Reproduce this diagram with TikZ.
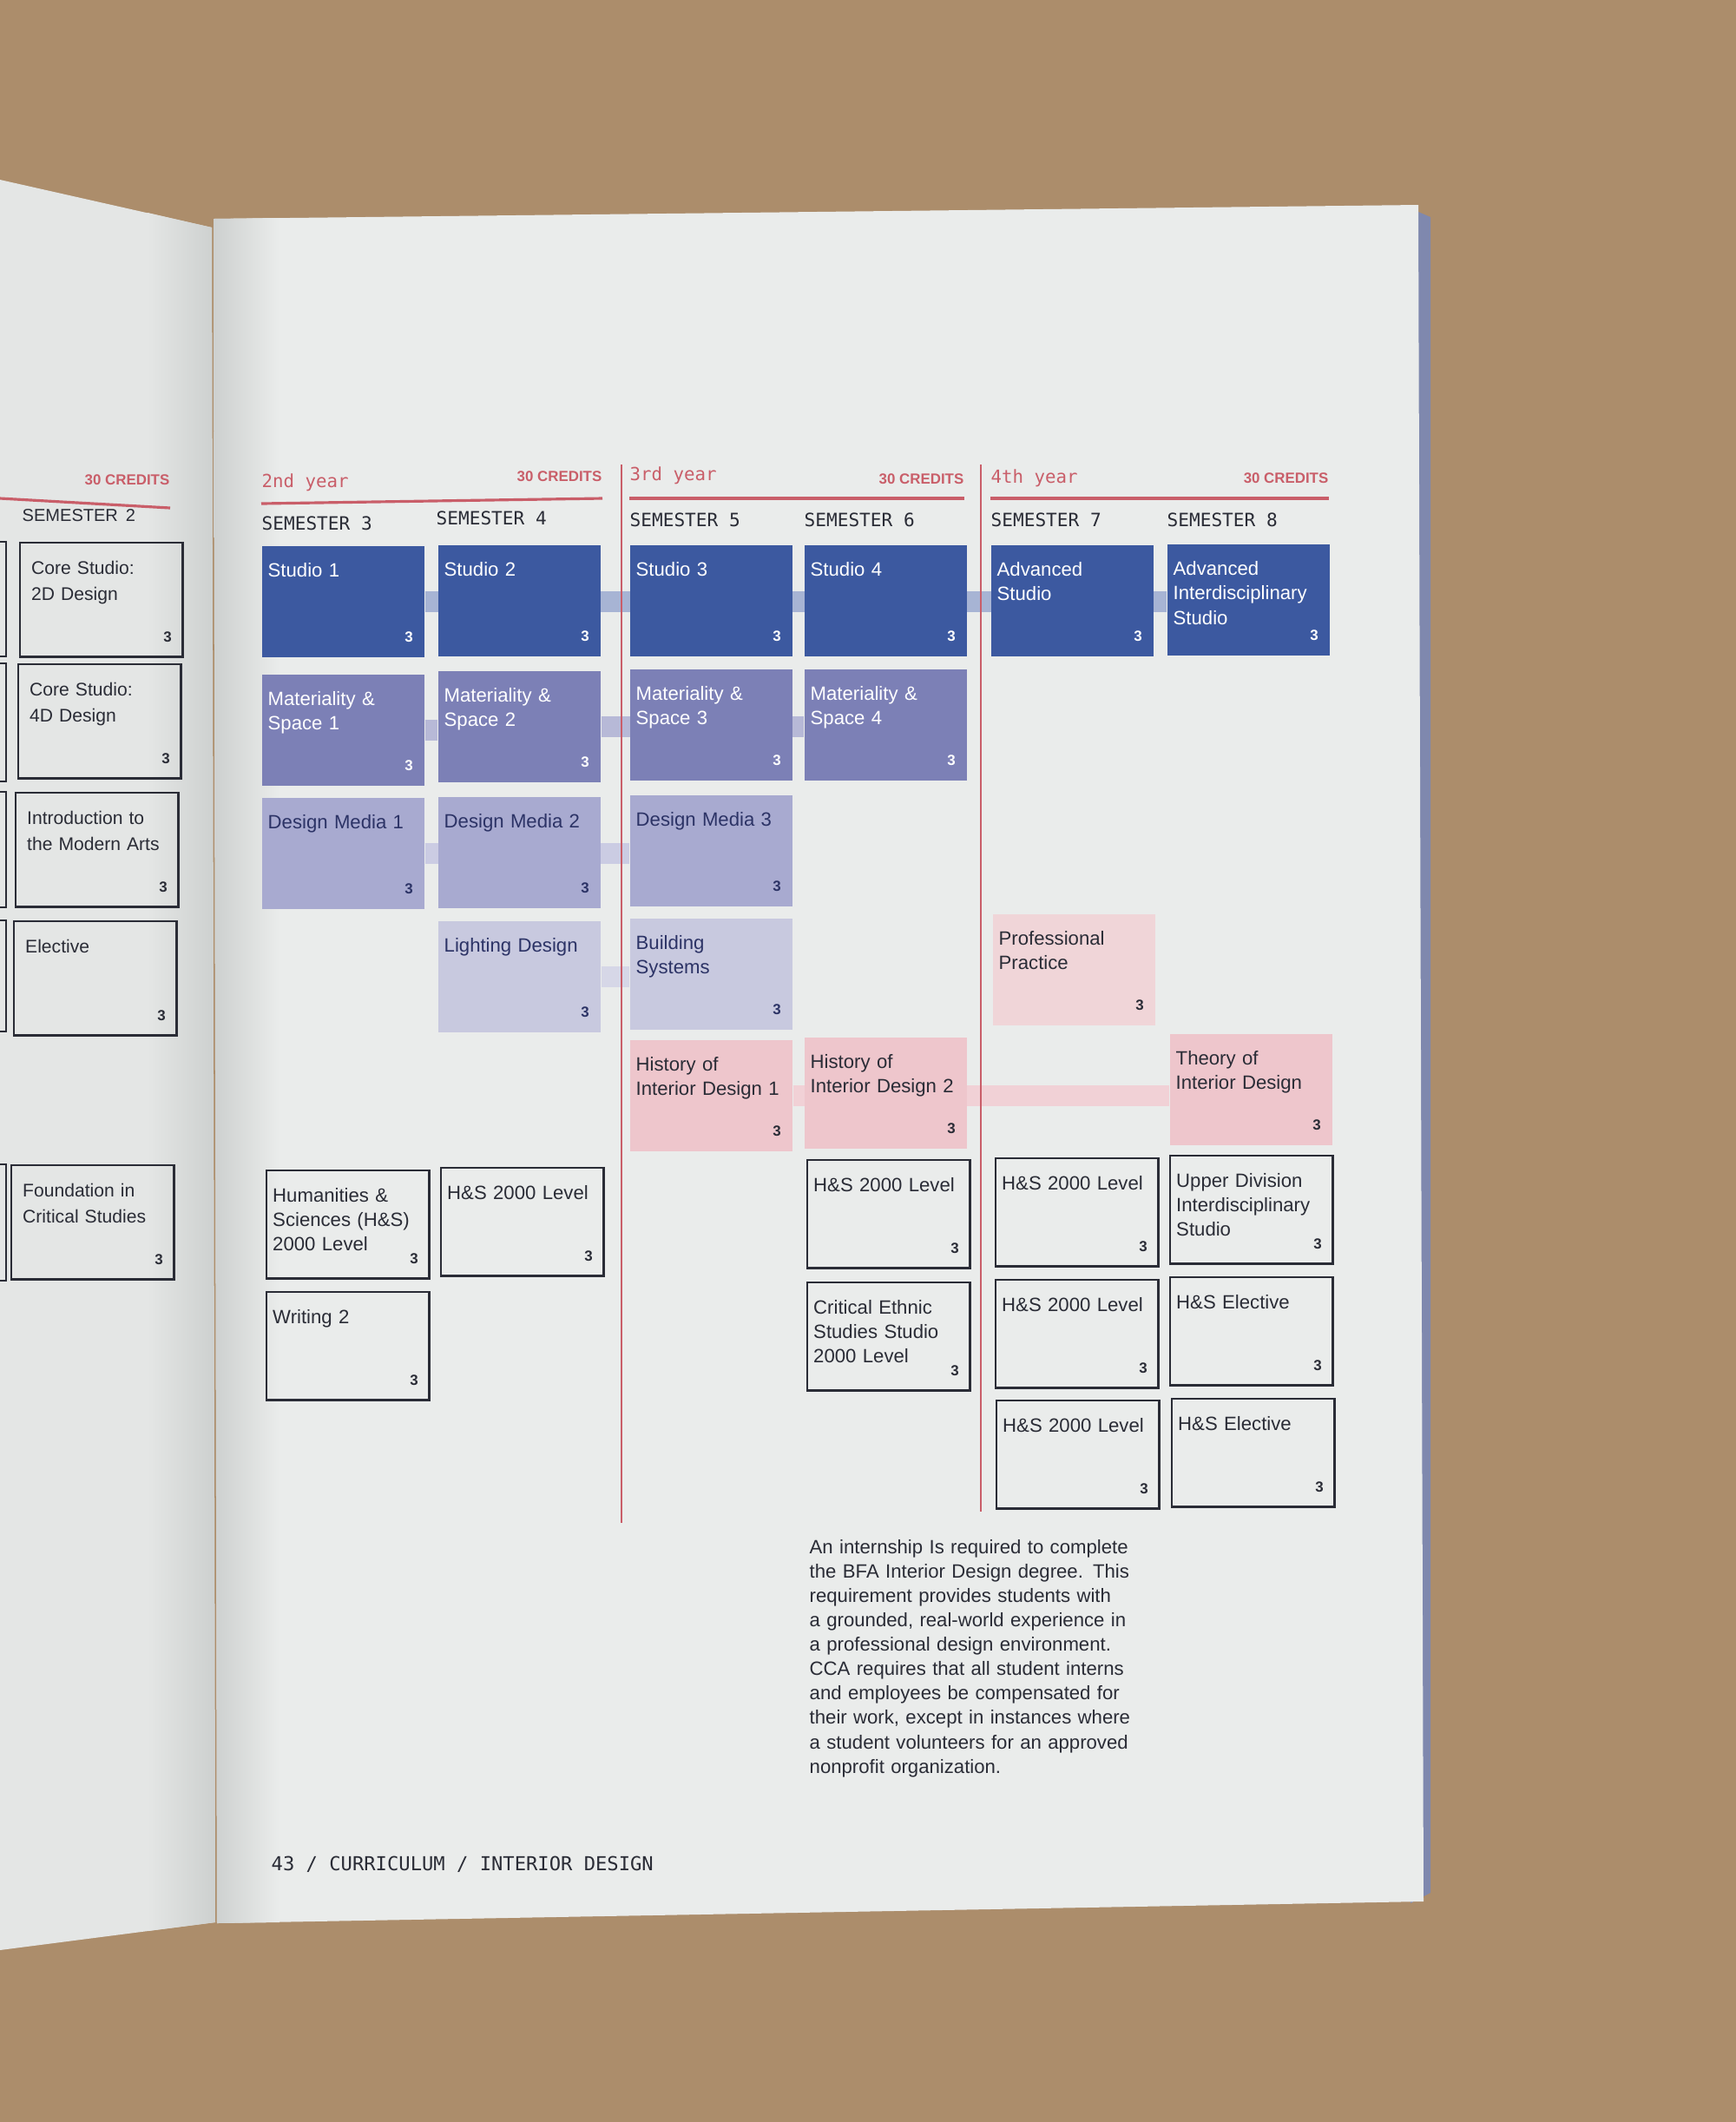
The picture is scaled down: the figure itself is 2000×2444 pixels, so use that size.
\documentclass[tikz,border=0pt]{standalone}
\usepackage{fontspec}
\setmainfont{Liberation Sans}
\newfontfamily\monofont{DejaVu Sans Mono}
\usetikzlibrary{backgrounds}
\definecolor{deskBrown}{HTML}{AC8D6B}
\definecolor{pageWhite}{HTML}{EAECEB}
\definecolor{pageShade}{HTML}{CDD0CF}
\definecolor{leftPage}{HTML}{E4E6E5}
\definecolor{bookEdge}{HTML}{7F88AE}
\definecolor{studioBlue}{HTML}{3C59A0}
\definecolor{matBlue}{HTML}{7C80B6}
\definecolor{mediaBlue}{HTML}{A8AAD0}
\definecolor{lightBlue}{HTML}{C8C9DF}
\definecolor{histPink}{HTML}{EEC6CC}
\definecolor{profPink}{HTML}{F0D5D8}
\definecolor{ruleRed}{HTML}{C95E69}
\definecolor{inkNavy}{HTML}{2C3366}
\definecolor{inkDark}{HTML}{2A2C36}
\tikzset{
  course/.style={anchor=north west, minimum width=1.87cm, text width=1.73cm,
        align=left, inner xsep=0.07cm, inner ysep=0pt, text height=0.36cm,
        text depth=0.92cm, font=\fontsize{6.3}{8}\selectfont},
  credit/.style={append after command={node[anchor=south east, inner sep=0pt,
        text=#1, font=\fontsize{4.8}{5}\selectfont\bfseries]
        at ([xshift=-0.13cm, yshift=0.17cm]\tikzlastnode.south east) {3}}},
  studio/.style={course, fill=studioBlue, text=white, credit=white},
  matl/.style={course, fill=matBlue, text=white, credit=white},
  media/.style={course, fill=mediaBlue, text=inkNavy, credit=inkNavy},
  techn/.style={course, fill=lightBlue, text=inkNavy, credit=inkNavy},
  hist/.style={course, fill=histPink, text=inkDark, credit=inkDark},
  outline/.style={course, draw=inkDark, line width=0.7pt, text=inkDark,
        credit=inkDark, text depth=0.88cm},
  leftbox/.style={outline, text width=1.61cm, text depth=0.95cm,
        font=\fontsize{6.0}{8.5}\selectfont},
  linkbar/.style={line width=0.24cm, draw=#1},
  divider/.style={draw=ruleRed, line width=0.7pt},
  yearrule/.style={draw=ruleRed, line width=0.9pt},
  yearlbl/.style={anchor=west, inner sep=0pt, text=ruleRed,
        font=\monofont\fontsize{5.9}{7}\selectfont},
  credlbl/.style={anchor=east, inner sep=0pt, text=ruleRed,
        font=\fontsize{4.8}{5}\selectfont\bfseries},
  semlbl/.style={anchor=west, inner sep=0pt, text=inkDark,
        font=\monofont\fontsize{6}{7}\selectfont}
}
\begin{document}
\begin{tikzpicture}[x=0.01cm, y=-0.01cm]
\useasboundingbox (0,0) rectangle (2000,2444);
\begin{scope}[on background layer]
\fill[deskBrown] (0,0) rectangle (2000,2444);
\fill[leftPage] (0,207) -- (244,262) -- (248,2214) -- (0,2246) -- cycle;
\shade[left color=leftPage, right color=pageShade] (170,245) -- (244,262) -- (248,2214) -- (170,2224) -- cycle;
\fill[bookEdge] (1620,238) -- (1648,250) -- (1648,2180) -- (1625,2192) -- cycle;
\fill[pageWhite] (246,252) -- (1634,236) -- (1640,2190) -- (250,2215) -- cycle;
\shade[left color=pageShade, right color=pageWhite] (246,252) -- (320,251) -- (322,2214) -- (250,2215) -- cycle;
\end{scope}

% left page, semester 2
\node[credlbl] (credOne) at (196,553) {30 CREDITS};
\draw[yearrule] (0,574) -- (196,585);
\node[anchor=west, inner sep=0pt, text=inkDark, font=\fontsize{5.7}{7}\selectfont] (semTwo) at (25,594) {SEMESTER\, 2};
\foreach \y/\h in {624/132, 764/136, 912/133, 1060/128, 1341/134}
  \draw[inkDark, line width=0.7pt] (-60,\y) rectangle (7,\y+\h);
\node[leftbox] (coreTwo)    at (22,624)  {Core Studio:\\2D Design};
\node[leftbox] (coreFour)   at (20,764)  {Core Studio:\\4D Design};
\node[leftbox] (modernArts) at (17,912)  {Introduction to\\the Modern Arts};
\node[leftbox] (elective)   at (15,1060) {Elective};
\node[leftbox] (foundation) at (12,1341) {Foundation in\\Critical Studies};

% year headers
\node[yearlbl] (yearTwo)   at (301,556)  {2nd year};
\node[yearlbl] (yearThree) at (725,548)  {3rd year};
\node[yearlbl] (yearFour)  at (1141,551) {4th year};
\node[credlbl] (credTwo)   at (694,549)  {30 CREDITS};
\node[credlbl] (credThree) at (1111,552) {30 CREDITS};
\node[credlbl] (credFour)  at (1531,551) {30 CREDITS};
\draw[yearrule] (301,580) -- (694,574);
\draw[yearrule] (725,574) -- (1111,574);
\draw[yearrule] (1141,574) -- (1531,574);
\node[semlbl] (semThree) at (301,603)  {SEMESTER 3};
\node[semlbl] (semFour)  at (502,597)  {SEMESTER 4};
\node[semlbl] (semFive)  at (725,599)  {SEMESTER 5};
\node[semlbl] (semSix)   at (926,599)  {SEMESTER 6};
\node[semlbl] (semSeven) at (1141,599) {SEMESTER 7};
\node[semlbl] (semEight) at (1344,599) {SEMESTER 8};
\draw[divider] (716,535) -- (716,1754);
\draw[divider] (1130,535) -- (1130,1741);

% studio track
\node[studio] (studioA)  at (301,628)  {Studio 1};
\node[studio] (studioB)  at (504,627)  {Studio 2};
\node[studio] (studioC)  at (725,627)  {Studio 3};
\node[studio] (studioD)  at (926,627)  {Studio 4};
\node[studio] (advStudio) at (1141,627) {Advanced\\Studio};
\node[studio] (advInter) at (1344,626)  {Advanced\\Interdisciplinary\\Studio};

% materiality, media, technology
\node[matl] (matA) at (301,776) {Materiality \&\\Space 1};
\node[matl] (matB) at (504,772) {Materiality \&\\Space 2};
\node[matl] (matC) at (725,770) {Materiality \&\\Space 3};
\node[matl] (matD) at (926,770) {Materiality \&\\Space 4};
\node[media] (mediaA) at (301,918) {Design Media 1};
\node[media] (mediaB) at (504,917) {Design Media 2};
\node[media] (mediaC) at (725,915) {Design Media 3};
\node[techn] (lighting) at (504,1060) {Lighting Design};
\node[techn] (building) at (725,1057) {Building\\Systems};

% history and theory
\node[hist, fill=profPink] (profPractice) at (1143,1052) {Professional\\Practice};
\node[hist] (histA)  at (725,1197)  {History of\\Interior Design 1};
\node[hist] (histB)  at (926,1194)  {History of\\Interior Design 2};
\node[hist] (theory) at (1347,1190) {Theory of\\Interior Design};

% humanities and sciences
\node[outline] (hsA)       at (306,1347)  {Humanities \&\\Sciences (H\&S)\\2000 Level};
\node[outline] (hsB)       at (507,1344)  {H\&S 2000 Level};
\node[outline] (writing)   at (306,1487)  {Writing 2};
\node[outline] (hsC)       at (929,1335)  {H\&S 2000 Level};
\node[outline] (critEthnic) at (929,1476) {Critical Ethnic\\Studies Studio\\2000 Level};
\node[outline] (hsD)       at (1146,1333) {H\&S 2000 Level};
\node[outline] (upperDiv)  at (1347,1330) {Upper Division\\Interdisciplinary\\Studio};
\node[outline] (hsE)       at (1146,1473) {H\&S 2000 Level};
\node[outline] (hsElecA)   at (1347,1470) {H\&S Elective};
\node[outline] (hsF)       at (1147,1612) {H\&S 2000 Level};
\node[outline] (hsElecB)   at (1349,1610) {H\&S Elective};

% tracks
\begin{scope}[on background layer]
\draw[linkbar={studioBlue!45!white}] (studioA.east) -- (studioA.east -| advInter.west);
\draw[linkbar={matBlue!55!white}] (matB.east) -- (matB.east -| matD.west);
\draw[linkbar={matBlue!55!white}] (matA.east) -- (matA.east -| matB.west);
\draw[linkbar={mediaBlue!60!white}] (mediaA.east) -- (mediaA.east -| mediaC.west);
\draw[linkbar={lightBlue!75!white}] (lighting.east) -- (lighting.east -| building.west);
\draw[linkbar={histPink!80!white}] (histA.east) -- (histA.east -| theory.west);
\end{scope}

\node[anchor=north west, inner sep=0pt, text width=4.2cm, align=left, text=inkDark,
      font=\fontsize{6.3}{7.97}\selectfont] (internNote) at (932,1773)
  {An internship Is required to complete\\the BFA Interior Design degree. This\\requirement provides students with\\a grounded, real-world experience in\\a professional design environment.\\CCA requires that all student interns\\and employees be compensated for\\their work, except in instances where\\a student volunteers for an approved\\nonprofit organization.};
\node[anchor=west, inner sep=0pt, text=inkDark, font=\monofont\fontsize{6.3}{7}\selectfont]
  (footer) at (312,2147) {43 / CURRICULUM / INTERIOR DESIGN};
\end{tikzpicture}
\end{document}
